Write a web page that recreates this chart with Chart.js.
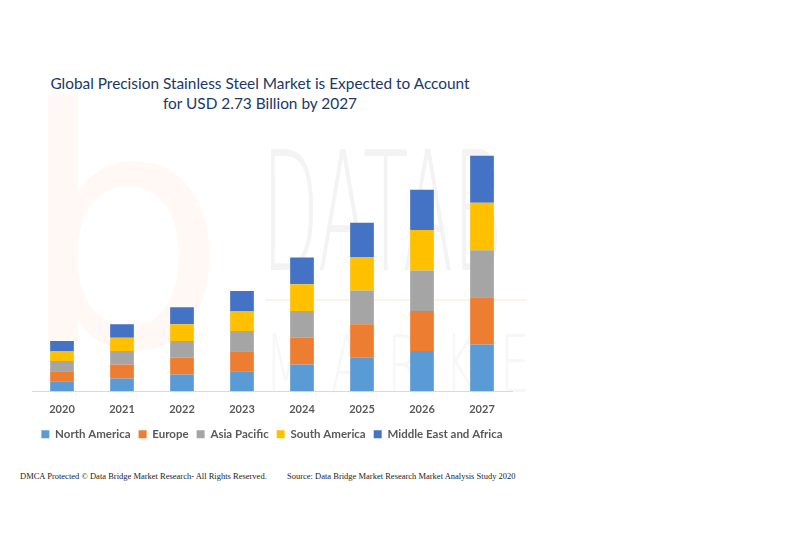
<!DOCTYPE html>
<html>
<head>
<meta charset="utf-8">
<script src="https://cdn.jsdelivr.net/npm/chart.js@4"></script>
<style>
  body { margin: 0; background: #fff; }
  #page { position: relative; width: 800px; height: 533px; overflow: hidden; }
  #wm { position: absolute; left: 0; top: 0; width: 527px; height: 533px; overflow: hidden; }
  .wmText { position: absolute; font-family: "DejaVu Sans"; font-weight: 200; color: #f3f3f3; white-space: nowrap; transform-origin: 0 0; }
  #title { position: absolute; left: 0; top: 73px; width: 520px; text-align: center; font-family: Lato; font-size: 15.4px; line-height: 20px; color: #203864; }
  #box { position: absolute; left: 0; top: 0; width: 540px; height: 454px; }
  .foot { position: absolute; top: 471px; font-family: "Liberation Serif"; font-size: 8.5px; color: #222; white-space: nowrap; }
</style>
</head>
<body>
<div id="page">
  <div id="wm">
    <div class="wmText" style="left:18px; top:40px; font-size:330px; font-weight:normal; color:#fff8f5;">b</div>
    <div class="wmText" style="left:262px; top:117px; font-size:165px; transform:scaleX(0.45);">DATAB</div>
    <div style="position:absolute; left:265px; top:299px; width:262px; height:2px; background:#fdf3ee;"></div>
    <div class="wmText" style="left:265px; top:318px; font-size:80px; letter-spacing:40px; color:#f7f7f7; transform:scaleX(0.6);">MARKET</div>
  </div>
  <div id="title">Global Precision Stainless Steel Market is Expected to Account<br>for USD 2.73 Billion by 2027</div>
  <div id="box"><canvas id="barChart"></canvas></div>
  <div class="foot" style="left:20px;">DMCA Protected © Data Bridge Market Research- All Rights Reserved.</div>
  <div class="foot" style="left:287px;">Source: Data Bridge Market Research Market Analysis Study 2020</div>
</div>
<script>
  // valeurs (USD milliards)
  const years = ['2020', '2021', '2022', '2023', '2024', '2025', '2026', '2027'];
  const northAmerica = [0.117, 0.148, 0.195, 0.233, 0.311, 0.389, 0.467, 0.545];
  const europe       = [0.117, 0.163, 0.195, 0.233, 0.311, 0.389, 0.467, 0.548];
  const asiaPacific  = [0.117, 0.156, 0.195, 0.233, 0.311, 0.393, 0.470, 0.545];
  const southAmerica = [0.117, 0.156, 0.195, 0.233, 0.311, 0.389, 0.470, 0.552];
  const middleEast   = [0.117, 0.156, 0.195, 0.233, 0.311, 0.397, 0.467, 0.545];

  const seriesNames = ['North America', 'Europe', 'Asia Pacific', 'South America', 'Middle East and Africa'];
  const seriesData = [northAmerica, europe, asiaPacific, southAmerica, middleEast];
  const colors = ['#5b9bd5', '#ed7d31', '#a5a5a5', '#ffc000', '#4472c4'];

  new Chart(document.querySelector('#barChart'), {
    type: 'bar',
    data: {
      labels: years,
      datasets: seriesNames.map((name, i) => ({
        label: name,
        data: seriesData[i],
        backgroundColor: colors[i],
        borderWidth: 0,
        barPercentage: 0.395,
        categoryPercentage: 1
      }))
    },
    options: {
      responsive: true,
      maintainAspectRatio: false,
      animation: false,
      layout: { padding: { left: 32, right: 28, top: 133, bottom: 4 } },
      scales: {
        x: {
          stacked: true,
          grid: { display: false, drawTicks: false },
          border: { display: true, color: '#d9d9d9' },
          ticks: { color: '#595959', padding: 12, font: { family: 'Lato', size: 11, weight: 'bold' } },
          afterFit: (scale) => { scale.height -= 8; }
        },
        y: {
          stacked: true,
          display: false,
          min: 0,
          max: 3
        }
      },
      plugins: {
        title: { display: false },
        legend: {
          position: 'bottom',
          labels: {
            boxWidth: 8,
            boxHeight: 8,
            padding: 8,
            color: '#595959',
            font: { family: 'Lato', size: 11.5, weight: 'bold' }
          }
        },
        tooltip: { enabled: false }
      }
    }
  });
</script>
</body>
</html>
